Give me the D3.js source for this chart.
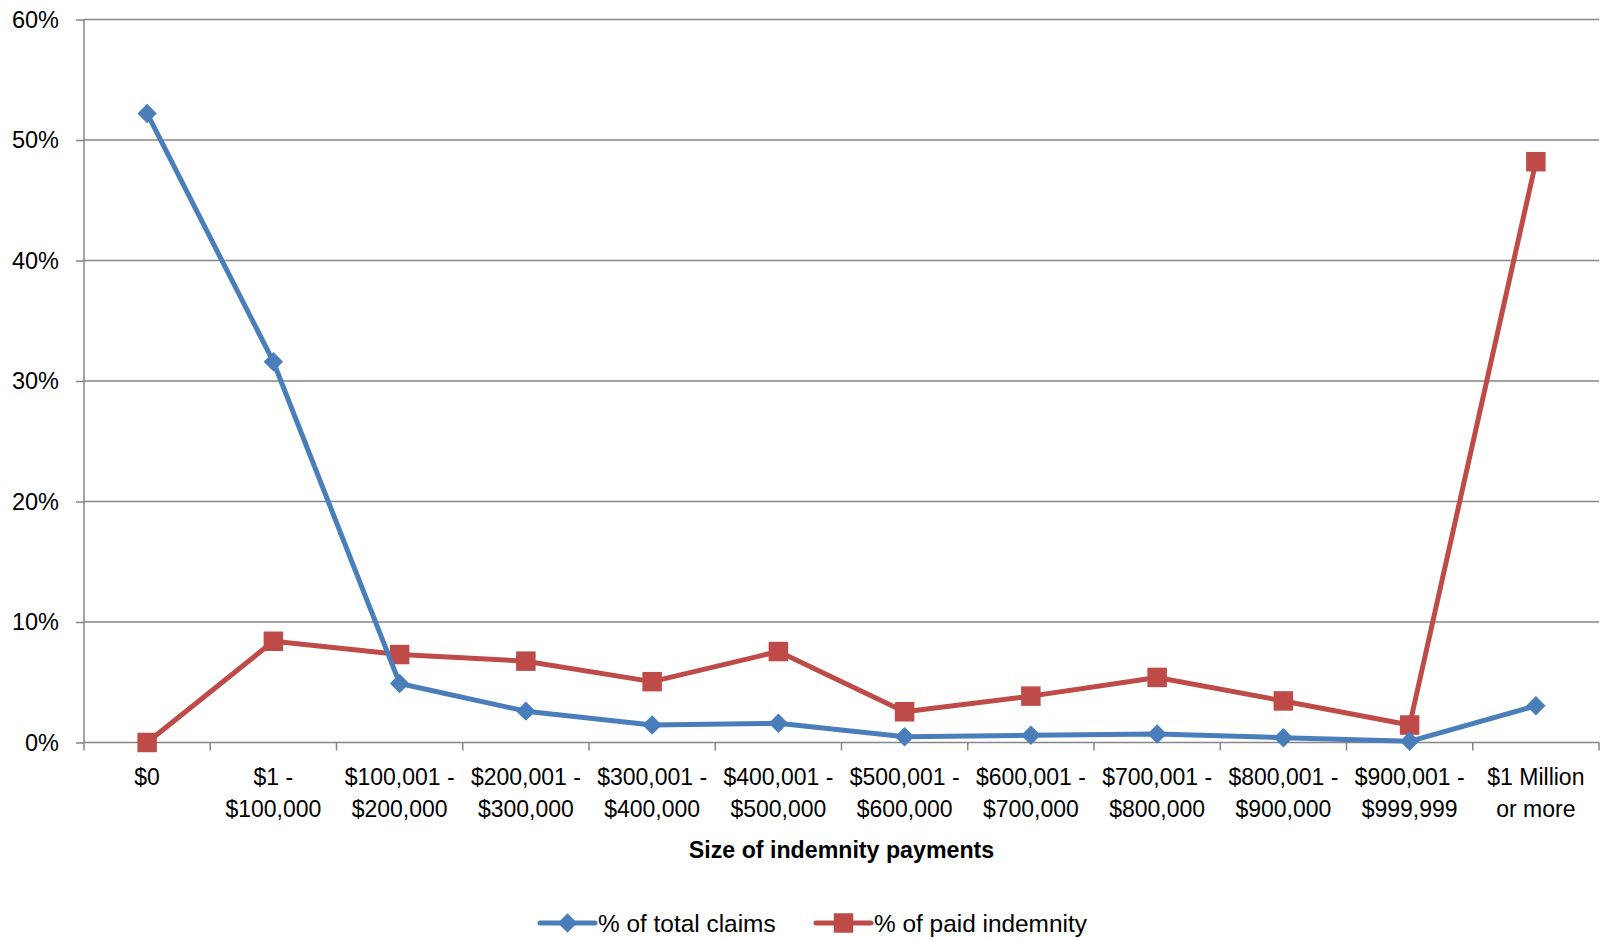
<!DOCTYPE html>
<html>
<head>
<meta charset="utf-8">
<script src="https://cdn.jsdelivr.net/npm/d3@7"></script>
<style>
  body { margin: 0; background: #fff; }
  svg text { font-family: "Liberation Sans", Arial, sans-serif; fill: #000; }
</style>
</head>
<body>
<svg id="chart" width="1604" height="940"></svg>
<script>
const categories = [
    "$0", "$1 -\n$100,000", "$100,001 -\n$200,000", "$200,001 -\n$300,000",
    "$300,001 -\n$400,000", "$400,001 -\n$500,000", "$500,001 -\n$600,000",
    "$600,001 -\n$700,000", "$700,001 -\n$800,000", "$800,001 -\n$900,000",
    "$900,001 -\n$999,999", "$1 Million\nor more"
];
const totalClaims = [52.2, 31.6, 4.9, 2.6, 1.45, 1.6, 0.48, 0.6, 0.7, 0.4, 0.1, 3.05];
const paidIndemnity = [0, 8.4, 7.3, 6.75, 5.05, 7.55, 2.55, 3.85, 5.4, 3.45, 1.45, 48.2];
const yTicks = [0, 10, 20, 30, 40, 50, 60];
const seriesNames = ["% of total claims", "% of paid indemnity"];

const margin = { top: 19.5, right: 5, bottom: 197.5, left: 84 };
const W = 1604, H = 940;
const width = W - margin.left - margin.right;
const height = H - margin.top - margin.bottom;

const blue = "#4a7ebb", red = "#be4b48", grey = "#868686";

const svg = d3.select("#chart");
const g = svg.append("g").attr("transform", `translate(${margin.left},${margin.top})`);

const x = d3.scaleBand().domain(categories).range([0, width]);
const xEdge = d3.scaleLinear().domain([0, categories.length]).range([0, width]);
const y = d3.scaleLinear().domain([0, 60]).range([height, 0]);

// gridlines
g.selectAll(".grid")
    .data(yTicks.filter(d => d > 0))
    .enter().append("line")
    .attr("x1", 0).attr("x2", width)
    .attr("y1", d => y(d)).attr("y2", d => y(d))
    .attr("stroke", grey).attr("stroke-width", 1.5);

// y axis
const yAxis = g.append("g")
    .call(d3.axisLeft(y).tickValues(yTicks).tickSize(8).tickPadding(17).tickFormat(d => d + "%"));
yAxis.selectAll("line").attr("stroke", grey).attr("stroke-width", 1.5);
yAxis.select(".domain").attr("stroke", grey).attr("stroke-width", 1.5).attr("d", `M0,0V${height}`);
yAxis.selectAll("text").attr("font-size", 23.5).attr("font-family", "Liberation Sans, Arial, sans-serif");

// x axis
const xAxis = g.append("g").attr("transform", `translate(0,${height})`);
xAxis.append("line").attr("x1", 0).attr("x2", width)
    .attr("stroke", grey).attr("stroke-width", 1.5);
xAxis.selectAll(".xtick")
    .data(d3.range(categories.length + 1))
    .enter().append("line")
    .attr("x1", d => xEdge(d)).attr("x2", d => xEdge(d))
    .attr("y1", 0).attr("y2", 8)
    .attr("stroke", grey).attr("stroke-width", 1.5);
const xl = xAxis.selectAll(".xlabel")
    .data(categories)
    .enter().append("text")
    .attr("text-anchor", "middle")
    .attr("font-size", 23)
    .attr("transform", d => `translate(${x(d) + x.bandwidth() / 2},0)`);
xl.selectAll("tspan")
    .data(d => d.split("\n"))
    .enter().append("tspan")
    .attr("x", 0)
    .attr("y", (d, i) => 42 + i * 32)
    .text(d => d);

// axis title
g.append("text")
    .attr("x", width / 2).attr("y", height + 115)
    .attr("text-anchor", "middle")
    .attr("font-size", 23.2).attr("font-weight", "bold")
    .text("Size of indemnity payments");

const cx = (d, i) => x(categories[i]) + x.bandwidth() / 2;
const line = d3.line().x((d, i) => cx(d, i)).y(d => y(d));

const diamond = d3.symbol().type(d3.symbolDiamond2).size(240);
const square = d3.symbol().type(d3.symbolSquare).size(380);

// red series
g.append("path").datum(paidIndemnity)
    .attr("fill", "none").attr("stroke", red).attr("stroke-width", 5)
    .attr("stroke-linejoin", "round").attr("d", line);
g.selectAll(".sq").data(paidIndemnity).enter().append("path")
    .attr("d", square)
    .attr("transform", (d, i) => `translate(${cx(d, i)},${y(d)})`)
    .attr("fill", red);

// blue series
g.append("path").datum(totalClaims)
    .attr("fill", "none").attr("stroke", blue).attr("stroke-width", 5)
    .attr("stroke-linejoin", "round").attr("d", line);
g.selectAll(".dm").data(totalClaims).enter().append("path")
    .attr("d", diamond)
    .attr("transform", (d, i) => `translate(${cx(d, i)},${y(d)})`)
    .attr("fill", blue);

// legend
const legend = svg.append("g").attr("transform", "translate(0,923)");
const items = [
    { name: seriesNames[0], color: blue, sym: diamond, x0: 540 },
    { name: seriesNames[1], color: red, sym: square, x0: 816 }
];
items.forEach(it => {
    legend.append("line").attr("x1", it.x0).attr("x2", it.x0 + 55)
        .attr("stroke", it.color).attr("stroke-width", 5).attr("stroke-linecap", "round");
    legend.append("path").attr("d", it.sym)
        .attr("transform", `translate(${it.x0 + 27.5},0)`).attr("fill", it.color);
    legend.append("text").attr("x", it.x0 + 58).attr("y", 8.5)
        .attr("font-size", 24.4).text(it.name);
});
</script>
</body>
</html>
